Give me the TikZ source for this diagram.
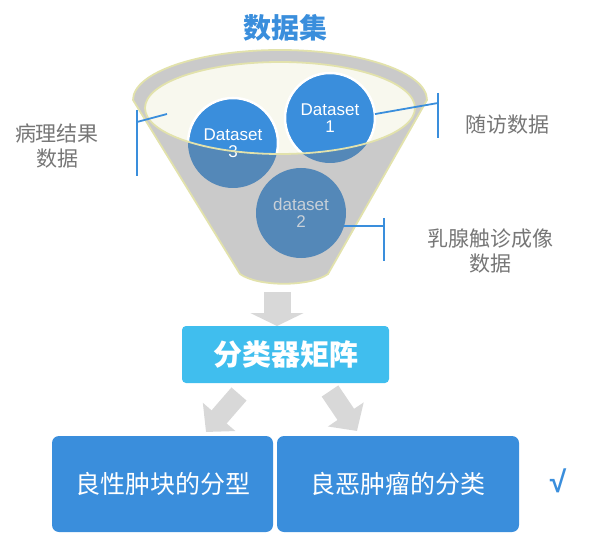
\documentclass[tikz,border=0pt]{standalone}
\usepackage{fontspec}
\setmainfont{Liberation Sans}
\newfontfamily\cjk{Noto Sans CJK SC}
\usetikzlibrary{arrows.meta}

\definecolor{dsblue}{RGB}{58,142,220}
\definecolor{dsdull}{RGB}{84,136,184}
\definecolor{dsgray}{RGB}{200,208,216}
\definecolor{clscyan}{RGB}{64,190,238}
\definecolor{arrgray}{RGB}{216,216,216}
\definecolor{funnelgray}{RGB}{202,202,202}
\definecolor{rimbeige}{RGB}{226,226,172}
\definecolor{innerwhite}{RGB}{248,248,238}
\definecolor{labelgray}{RGB}{118,118,118}

\tikzset{
  title/.style={text=dsblue, font=\cjk\bfseries\fontsize{28}{28}\selectfont},
  funnel/.style={fill=funnelgray, draw=rimbeige, line width=1.8pt},
  rim/.style={draw=rimbeige, line width=1.8pt},
  dsball/.style={circle, minimum size=90pt, inner sep=0pt, fill=dsdull},
  dstext/.style={text=white, align=center, font=\fontsize{17}{17}\selectfont},
  lbl/.style={text=labelgray, align=center, font=\cjk\fontsize{21}{25}\selectfont},
  marker/.style={draw=dsblue, line width=1.8pt},
  downarrow/.style={draw=arrgray, line width=27pt, -{Triangle[length=13pt,width=53pt]}},
  sidearrow/.style={draw=arrgray, line width=20pt, -{Triangle[length=20pt,width=42pt]}},
  clsbox/.style={fill=clscyan, rounded corners=4pt, minimum width=207pt, minimum height=57pt,
    text=white, font=\cjk\bfseries\fontsize{29}{29}\selectfont},
  resbox/.style={fill=dsblue, rounded corners=7pt, minimum height=96pt,
    text=white, font=\cjk\fontsize{25}{25}\selectfont},
  check/.style={text=dsblue, font=\bfseries\fontsize{30}{30}\selectfont}
}

\begin{document}
\begin{tikzpicture}[x=1pt,y=-1pt]
  \useasboundingbox (0,0) rectangle (589,548);

  \node[title] (ttl) at (285,28) {数据集};

  % funnel
  \filldraw[funnel] (133,100) arc[start angle=180,end angle=360,x radius=147,y radius=50]
    -- (328,274) .. controls (310,287) and (258,287) .. (240,274) -- cycle;
  \fill[innerwhite] (280,108) ellipse[x radius=135,y radius=46];

  % datasets
  \node[dsball] (ds1) at (330,118) {};
  \node[dsball] (ds3) at (233,143) {};
  \node[dsball] (ds2) at (301,213) {};
  \begin{scope}
    \clip (280,108) ellipse[x radius=135,y radius=46];
    \foreach \d in {ds1,ds3}
      \filldraw[fill=dsblue, draw=white, line width=2.5pt] (\d) circle[radius=45];
  \end{scope}
  \node[dstext] (ds1txt) at (ds1) {Dataset\\1};
  \node[dstext] (ds3txt) at (ds3) {Dataset\\3};
  \node[dstext, text=dsgray] (ds2txt) at (ds2) {dataset\\2};
  \draw[rim] (280,108) ellipse[x radius=135,y radius=46];

  % markers
  \coordinate (lbartop) at (137,110);
  \coordinate (lbarbot) at (137,176);
  \coordinate (lbarmid) at (137,122);
  \coordinate (lrim) at (167,114);
  \draw[marker] (lbartop) -- (lbarbot);
  \draw[marker] (lbarmid) -- (lrim);
  \coordinate (r1top) at (438,93);
  \coordinate (r1bot) at (438,138);
  \draw[marker] (r1top) -- (r1bot);
  \draw[marker] (ds1.5) -- (r1top |- 0,103);
  \coordinate (r2top) at (384,218);
  \coordinate (r2bot) at (384,261);
  \draw[marker] (r2top) -- (r2bot);
  \draw[marker] (ds2.-17) -- (ds2.-17 -| r2top);

  \node[lbl] (lblpath) at (57,146) {病理结果\\数据};
  \node[lbl] (lblfollow) at (507,125) {随访数据};
  \node[lbl] (lblpalp) at (490,251) {乳腺触诊成像\\数据};

  % classifier
  \coordinate (dtop) at (277,292);
  \draw[downarrow] (dtop) -- (dtop |- 0,326);
  \node[clsbox] (cls) at (285.5,354.5) {分类器矩阵};
  \coordinate (lfrom) at (239,394);
  \coordinate (lto) at (206,432);
  \coordinate (rfrom) at (330,391);
  \coordinate (rto) at (357,431);
  \draw[sidearrow] (lfrom) -- (lto);
  \draw[sidearrow] (rfrom) -- (rto);

  \node[resbox, minimum width=221pt] (res1) at (162.5,484) {良性肿块的分型};
  \node[resbox, minimum width=242pt] (res2) at (398,484) {良恶肿瘤的分类};
  \node[check] (chk) at (558,481) {√};
\end{tikzpicture}
\end{document}
